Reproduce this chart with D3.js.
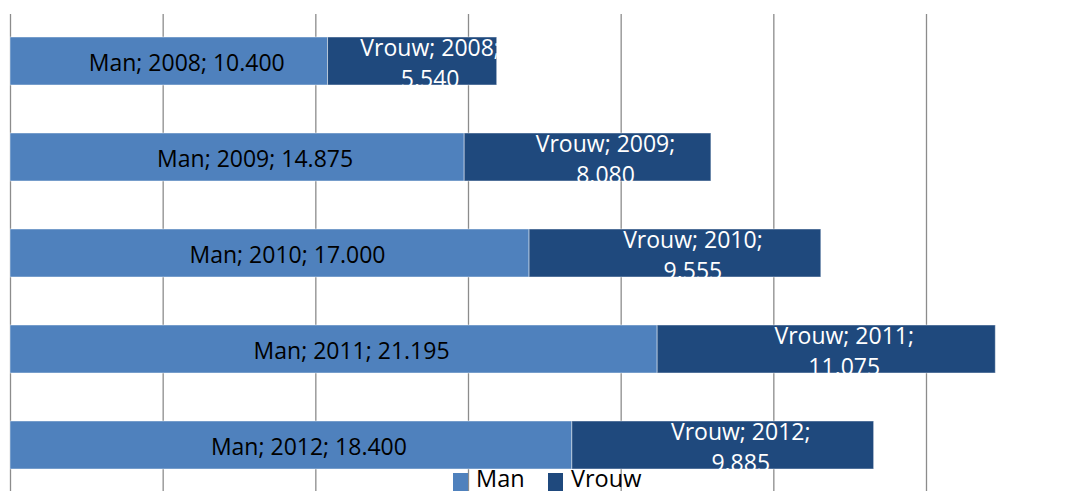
<!DOCTYPE html>
<html>
<head>
<meta charset="utf-8">
<script src="https://cdn.jsdelivr.net/npm/d3@7"></script>
<style>
  html, body { margin: 0; padding: 0; background: #fff; overflow: hidden; }
  svg { display: block; }
  text { font-family: "Open Sans", "Liberation Sans", sans-serif; }
</style>
</head>
<body>
<svg id="chart" width="1065" height="491"></svg>
<script>
const years = ["2008", "2009", "2010", "2011", "2012"];
const man = [10400, 14875, 17000, 21195, 18400];
const vrouw = [5540, 8080, 9555, 11075, 9885];
const seriesNames = ["Man", "Vrouw"];
const colors = ["#4F81BD", "#1F497D"];
const xTicks = [0, 5000, 10000, 15000, 20000, 25000, 30000, 35000];

const fmt = v => d3.format(",")(v).replace(/,/g, ".");

const svg = d3.select("#chart");
const W = 1065, H = 491;

const x = d3.scaleLinear().domain([0, 35000]).range([10, 10 + 35000 * (916 / 30000)]);
const y = d3.scaleBand().domain(years).range([13, 493]).paddingInner(0.5).paddingOuter(0.25);

// gridlines
const grid = svg.append("g").attr("transform", `translate(0,${H})`)
  .call(d3.axisBottom(x).tickValues(xTicks).tickSize(-(H - 14)).tickFormat(""));
grid.select(".domain").remove();
grid.selectAll(".tick line").attr("stroke", "#8c8c8c").attr("stroke-width", 1.3);

const rows = years.map((yr, i) => ({ year: yr, vals: [man[i], vrouw[i]] }));
const stacked = rows.map(r => {
  let acc = 0;
  return r.vals.map((v, s) => { const d = { year: r.year, s, v, x0: acc, x1: acc + v }; acc += v; return d; });
});

const defs = svg.append("defs");
const barsG = svg.append("g");
stacked.flat().forEach((d, k) => {
  const bx = x(d.x0), bw = x(d.x1) - x(d.x0), by = y(d.year), bh = y.bandwidth();
  barsG.append("rect")
    .attr("x", bx).attr("y", by).attr("width", bw).attr("height", bh)
    .attr("fill", colors[d.s])
    .attr("stroke", "rgba(255,255,255,0.45)").attr("stroke-width", 1);
  const cid = "clip" + k;
  defs.append("clipPath").attr("id", cid).append("rect")
    .attr("x", bx).attr("y", by).attr("width", bw).attr("height", bh);
  const cx = bx + bw / 2 + 18;
  if (d.s === 0) {
    barsG.append("text")
      .attr("x", cx).attr("y", by + bh / 2 + 10)
      .attr("text-anchor", "middle").attr("font-size", 23).attr("fill", "#000")
      .text(`${seriesNames[0]}; ${d.year}; ${fmt(d.v)}`);
  } else {
    const t = barsG.append("text")
      .attr("clip-path", `url(#${cid})`)
      .attr("text-anchor", "middle").attr("font-size", 23).attr("fill", "#fff");
    t.append("tspan").attr("x", cx).attr("y", by + 18.5).text(`${seriesNames[1]}; ${d.year};`);
    t.append("tspan").attr("x", cx).attr("y", by + 18.5 + 31).text(fmt(d.v));
  }
});

// legend
const legend = svg.append("g");
const legendX = [453, 548];
seriesNames.forEach((n, i) => {
  legend.append("rect").attr("x", legendX[i]).attr("y", 473).attr("width", 15).attr("height", 18).attr("fill", colors[i]);
  legend.append("text").attr("x", legendX[i] + 23).attr("y", 487).attr("font-size", 23.5).attr("fill", "#000").text(n);
});
</script>
</body>
</html>
